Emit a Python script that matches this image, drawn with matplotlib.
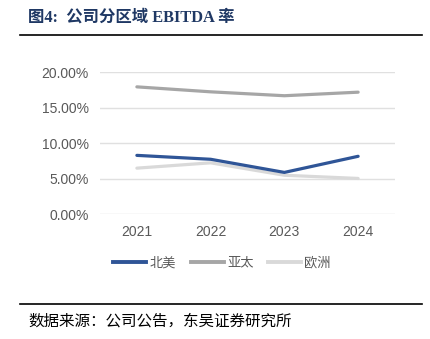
import matplotlib
matplotlib.use("Agg")
import matplotlib.pyplot as plt
from matplotlib.lines import Line2D

# data
years = ["2021", "2022", "2023", "2024"]
north_america = [8.3, 7.75, 5.9, 8.17]
asia_pacific = [17.95, 17.25, 16.7, 17.2]
europe = [6.5, 7.25, 5.5, 5.05]
series_names = ["北美", "亚太", "欧洲"]
yticks = [0, 5, 10, 15, 20]

cjk = ["Noto Sans CJK SC", "DejaVu Sans"]
tick_col = "#595959"

fig = plt.figure(figsize=(4.31, 3.39), dpi=100)
ax = fig.add_axes([100 / 431, 1 - 214.3 / 339, 295 / 431, 142 / 339])

x = range(len(years))
ax.plot(x, europe, color="#d9d9d9", lw=2.3, solid_capstyle="round", zorder=2)
ax.plot(x, asia_pacific, color="#a6a6a6", lw=2.3, solid_capstyle="round", zorder=3)
ax.plot(x, north_america, color="#2f5597", lw=2.3, solid_capstyle="round", zorder=4)

ax.set_xlim(-0.5, 3.5)
ax.set_ylim(0, 20)
ax.set_yticks(yticks)
ax.set_yticklabels(["%.2f%%" % v for v in yticks])
ax.set_xticks(list(x))
ax.set_xticklabels(years)
ax.tick_params(length=0, labelsize=10, colors=tick_col)
ax.tick_params(axis="x", pad=8)
ax.tick_params(axis="y", pad=8)
for lab in ax.get_xticklabels() + ax.get_yticklabels():
    lab.set_family("Liberation Sans")
ax.grid(axis="y", color="#e0e0e0", lw=1)
ax.set_axisbelow(True)
for s in ax.spines.values():
    s.set_visible(False)

handles = [Line2D([], [], color=c, lw=2.8) for c in ["#2f5597", "#a6a6a6", "#d9d9d9"]]
leg = fig.legend(handles, series_names, loc="center", bbox_to_anchor=(222 / 431, 1 - 263 / 339),
                 ncol=3, frameon=False, prop={"family": cjk, "size": 9.5},
                 handlelength=2.5, handletextpad=0.25, columnspacing=1.1)
for t in leg.get_texts():
    t.set_color(tick_col)

# title and rules
fig.text(28 / 431, 1 - 18 / 339, "图4:  公司分区域 EBITDA 率", fontsize=11.8,
         fontweight="bold", color="#1f3864", va="center",
         family=["Liberation Serif", "Noto Sans CJK SC"])
fig.add_artist(Line2D([20 / 431, 422 / 431], [1 - 34.5 / 339] * 2, color="black", lw=1.2))
fig.add_artist(Line2D([20 / 431, 422 / 431], [1 - 304 / 339] * 2, color="black", lw=1.2))
fig.text(28 / 431, 1 - 321 / 339, "数据来源：公司公告，东吴证券研究所", fontsize=11.2,
         color="black", va="center", family=cjk)

fig.savefig("out.png", dpi=100)
